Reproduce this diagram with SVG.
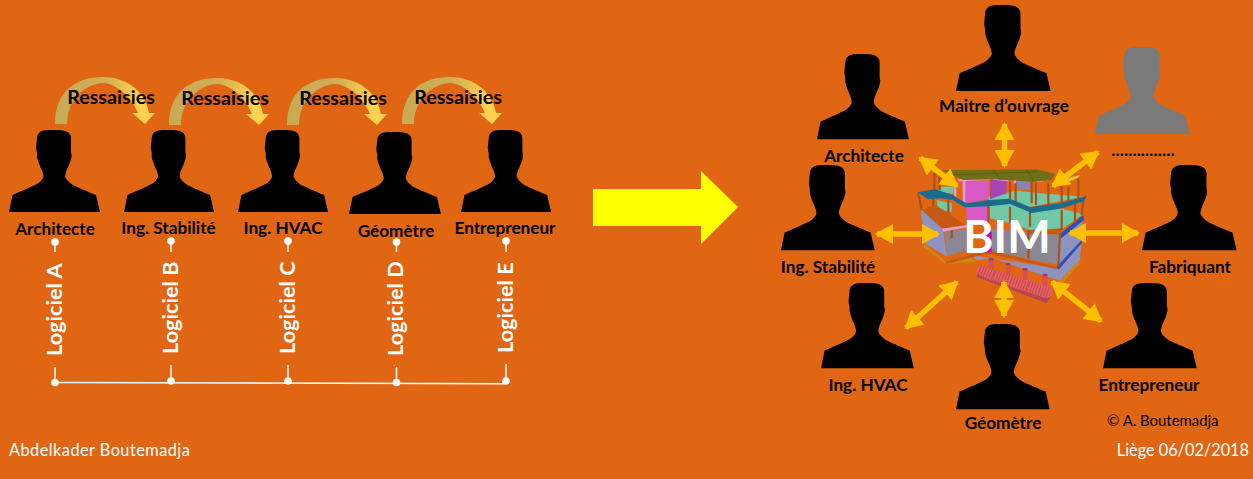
<svg xmlns="http://www.w3.org/2000/svg" width="1253" height="479" viewBox="0 0 1253 479">
<style>
text{font-family:"Lato","Carlito","Liberation Sans",sans-serif}
.n{font-size:17.2px;font-weight:700;fill:#000;text-anchor:middle}
.r{font-size:19.7px;font-weight:700;fill:#000;text-anchor:middle}
.l{font-size:21.7px;font-weight:700;fill:#fff}
.f{font-size:16.3px;fill:#fff}
.tl{stroke:#fff;stroke-width:1.5;fill:none}
.dot{fill:#fff}
.d{stroke:#ffc000;stroke-width:5.5;fill:none;marker-start:url(#h);marker-end:url(#h)}
.pil{stroke:#a8521a;stroke-width:6.500;fill:none}
.tank{stroke:#e46060;fill:none}
.rib{stroke:#c04850;stroke-width:33;stroke-dasharray:2.500 6;fill:none}
</style>
<defs>
<path id="p" d="M46,0C39,0 35,0 33,1C30,2 28,5 28,8L27,18L28,23L28,27C29,32 31,36 32.5,39.5C33.5,42 34.5,44 34.4,47C33,50 31,52 28,54C20,58 10,62 3.5,65L0,82L91,82L87,65C80,62 70,58 63.4,54.7C60,52 57.5,50 56.3,47C56,44 57,42 58,39.5C60,35 62,31 62.7,26L62,22L62,8C62,5 60,2 56,1C53,0 50,0 46,0Z"/>
<linearGradient id="g" gradientUnits="userSpaceOnUse" x1="55" y1="0" x2="155" y2="0"><stop offset="0" stop-color="#c8aa55"/><stop offset=".5" stop-color="#cfae55"/><stop offset=".85" stop-color="#ffd24f"/></linearGradient>
<path id="c" fill="url(#g)" d="M55,124C55,92 75,77 103,77C125,77 145,90 149,113L155,113L145,124L132,113L138,113C132,98 118,84 103,83C85,84 67,100 67,124Z"/>
<marker id="h" viewBox="0 0 18 20" refX="16" refY="10" markerUnits="userSpaceOnUse" markerWidth="18" markerHeight="20" orient="auto-start-reverse"><path d="M0,0L18,10L0,20Z" fill="#ffc000"/></marker>
</defs>
<rect width="1253" height="479" fill="#e16614"/>
<g id="connectors">
<use href="#c"/><use href="#c" transform="translate(114 1)"/><use href="#c" transform="translate(232 1)"/><use href="#c" transform="translate(347 0)"/>
<path class="tl" d="M55,382.5L505,383.7"/>
<path class="tl" d="M55,242V252M55,367V382M171,241V252M171,365V381M288,241V252M288,365V381M396.5,242V252M396.5,367V382M506,241V252M506,364V381"/>
<g class="dot"><circle cx="55" cy="242" r="3.8"/><circle cx="171" cy="241" r="3.8"/><circle cx="288" cy="241" r="3.8"/><circle cx="396.5" cy="242" r="3.8"/><circle cx="506" cy="241" r="3.8"/><circle cx="55" cy="382.5" r="3.8"/><circle cx="171" cy="381" r="3.8"/><circle cx="288" cy="381" r="3.8"/><circle cx="396.5" cy="382.5" r="3.8"/><circle cx="506" cy="381" r="3.8"/></g>
<polygon id="big-arrow" fill="#ff0" points="593,189 701,189 701,171 738,207 701,244 701,226 593,226"/>
</g>
<g id="bim-model" transform="translate(860 130) scale(.33333)">
<polygon fill="#8f93c0" points="595,420 665,335 660,390 595,455"/>
<polygon fill="#c98a10" points="595,455 655,395 660,400 605,462"/>
<polygon fill="#8f93c0" points="330,375 595,415 595,450 560,440 400,385 350,390"/>
<polygon fill="#c98a10" points="192,340 258,395 330,382 350,395 258,402 192,352"/>
<polygon fill="#8b8694" points="380,295 600,315 595,405 380,360"/>
<polygon fill="#8b8694" points="255,305 320,298 320,360 260,380"/>
<polygon fill="#8f93c0" points="182,240 210,245 250,300 260,380 195,340"/>
<polygon fill="#c65a14" points="258,395 385,360 590,410 590,418 385,370 258,402"/>
<polygon fill="#8f93c0" points="600,328 668,268 665,335 595,405"/>
<polygon fill="#2b50b8" points="600,312 670,255 672,270 600,328"/>
<polygon fill="#2b50b8" points="590,410 665,330 665,340 595,420"/>
<polygon fill="#6fc9a5" points="390,225 450,220 510,245 600,235 670,252 610,295 510,300 450,280 390,265"/>
<polygon fill="#c65a14" points="510,300 610,296 600,312 505,312"/>
<polygon fill="#6fc9a5" points="230,210 275,220 275,245 235,240"/>
<polygon fill="#6fc9a5" points="240,170 280,170 280,190 240,190"/>
<polygon fill="#6fc9a5" points="385,200 470,182 540,190 670,200 540,225 510,230 470,215 385,212"/>
<polygon fill="#d65ac8" points="315,155 385,152 385,208 315,220"/>
<polygon fill="#d65ac8" points="318,228 385,225 385,290 320,270"/>
<polygon fill="#a845b5" points="390,150 440,150 440,190 390,208"/>
<polygon fill="#8a84a8" points="465,152 510,150 510,180 465,180"/>
<polygon fill="#c400c4" points="380,300 395,305 395,365 380,370"/>
<g class="pil"><path d="M223,130V185M237,130L240,180M220,200V245M265,205V255M175,190L185,240M450,155V220M467,150V215M515,155V220M528,160V225M565,160V225M605,165V225M625,170V215M655,145V205M450,230V280M510,240V290M605,240V300M645,220V280M670,210L665,255M385,225V300M600,310L595,410M505,300V385M275,300V325"/></g>
<path stroke="#e89ac8" stroke-width="8" fill="none" d="M285,170V215M312,150V220M295,150L390,146M400,145L445,150M465,150V160M530,152L550,150"/>
<polygon fill="#1b6b8f" points="172,187 225,178 280,195 300,212 240,205 205,208"/>
<polygon fill="#1b6b8f" points="280,198 320,220 385,210 450,206 510,232 600,220 680,198 672,214 600,236 515,249 450,222 385,229 315,232 280,212"/>
<polygon fill="#c65a14" points="185,240 225,225 275,255 320,290 245,295"/>
<polygon fill="#e89ac8" points="245,296 320,285 322,292 250,305"/>
<polygon fill="#6e6f18" points="245,120 530,118 585,132 575,150 520,155 400,148 310,150 295,145"/>
<path stroke="#4f5512" stroke-width="2" fill="none" d="M270,135L535,125M400,120L420,148M500,120L520,152"/>
<polygon fill="#d8c83a" points="620,145 660,135 655,143 625,155"/>
<polygon fill="#b94650" points="347,440 560,520 578,492 565,475 365,415"/>
<g class="tank" stroke-linecap="round"><path stroke-width="30" d="M365,422L398,436"/><path stroke-width="32" d="M408,437L446,450"/><path stroke-width="34" d="M458,454L500,468"/><path stroke-width="36" d="M512,470L560,486"/></g>
<g class="rib"><path d="M358,420L402,438"/><path d="M402,435L450,452"/><path d="M452,452L505,470"/><path d="M505,468L565,488"/></g>
<g fill="#d85050"><rect x="386" y="388" width="15" height="30"/><rect x="437" y="402" width="15" height="32"/><rect x="488" y="418" width="15" height="32"/><rect x="547" y="435" width="15" height="32"/></g>
<g fill="#a83c48"><ellipse cx="393" cy="388" rx="8" ry="4"/><ellipse cx="444" cy="402" rx="8" ry="4"/><ellipse cx="495" cy="418" rx="8" ry="4"/><ellipse cx="555" cy="435" rx="8" ry="4"/></g>
</g>
<g id="connectors-right">
<path class="d" d="M920,158L957,186"/><path class="d" d="M1004.5,124V166"/><path class="d" d="M1098,152L1053,186"/><path class="d" d="M877,234H938"/><path class="d" d="M1070,233H1138"/><path class="d" d="M957,282L906,328"/><path class="d" d="M1004,282V316"/><path class="d" d="M1052,282L1101,321"/>
</g>
<g id="n-arch"><use href="#p" transform="translate(9 130)"/><text class="n" x="55" y="235">Architecte</text></g>
<g id="n-stab"><use href="#p" transform="translate(124 130) scale(.99 1)"/><text class="n" x="168.500" y="234">Ing. Stabilité</text></g>
<g id="n-hvac"><use href="#p" transform="translate(238 130) scale(.99 1)"/><text class="n" x="283" y="234">Ing. HVAC</text></g>
<g id="n-geo"><use href="#p" transform="translate(349 132) scale(1.01 1)"/><text class="n" x="396" y="237">Géomètre</text></g>
<g id="n-ent"><use href="#p" transform="translate(461 130) scale(.99 1)"/><text class="n" x="505" y="234">Entrepreneur</text></g>
<g id="labels">
<text class="r" x="111" y="104">Ressaisies</text><text class="r" x="225" y="105">Ressaisies</text><text class="r" x="343" y="105">Ressaisies</text><text class="r" x="458" y="104">Ressaisies</text>
<text class="l" transform="translate(61.700 356) rotate(-90)">Logiciel A</text>
<text class="l" transform="translate(178 354) rotate(-90)">Logiciel B</text>
<text class="l" transform="translate(295 354) rotate(-90)">Logiciel C</text>
<text class="l" transform="translate(403 356) rotate(-90)">Logiciel D</text>
<text class="l" transform="translate(513 353) rotate(-90)">Logiciel E</text>
</g>
<g id="r-arch"><use href="#p" transform="translate(817 54) scale(1.01 1.04)"/><text class="n" x="864" y="162">Architecte</text></g>
<g id="r-maitre"><use href="#p" transform="translate(956 5) scale(1.04 1.05)"/><text class="n" x="1004" y="112">Maitre d’ouvrage</text></g>
<g id="r-other"><use href="#p" transform="translate(1095 47) scale(1.04 1.06)" fill="#7a7a7a"/><text class="n" x="1143" y="156" letter-spacing=".15">...............</text></g>
<g id="r-stab"><use href="#p" transform="translate(781 165) scale(1.03 1.04)"/><text class="n" x="828" y="273">Ing. Stabilité</text></g>
<g id="r-fab"><use href="#p" transform="translate(1142 165) scale(1.04 1.04)"/><text class="n" x="1190" y="273">Fabriquant</text></g>
<g id="r-hvac"><use href="#p" transform="translate(821 283) scale(1.02 1.04)"/><text class="n" x="868" y="391">Ing. HVAC</text></g>
<g id="r-geo"><use href="#p" transform="translate(956 324) scale(1.03 1.04)"/><text class="n" x="1003" y="429">Géomètre</text></g>
<g id="r-ent"><use href="#p" transform="translate(1103 283) scale(1.03 1.04)"/><text class="n" x="1149" y="391">Entrepreneur</text></g>
<text x="1007" y="253" font-size="46" font-weight="700" fill="#fff" text-anchor="middle">BIM</text>
<text x="1107" y="426" font-size="14.900" fill="#000">© A. Boutemadja</text>
<text class="f" x="9" y="456" letter-spacing=".48">Abdelkader Boutemadja</text>
<text class="f" x="1249" y="456" text-anchor="end">Liège 06/02/2018</text>
</svg>
